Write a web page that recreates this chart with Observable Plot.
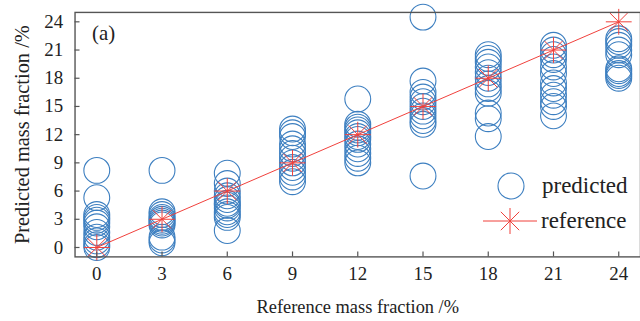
<!DOCTYPE html>
<html>
<head>
<meta charset="utf-8">
<script src="https://cdn.jsdelivr.net/npm/d3@7"></script>
<script src="https://cdn.jsdelivr.net/npm/@observablehq/plot@0.6"></script>
<style>
  html, body { margin: 0; padding: 0; background: #fff; }
  #wrap { position: relative; width: 640px; height: 321px; overflow: hidden; }
  #wrap svg text { font-family: "Liberation Serif", "Times New Roman", Times, "DejaVu Serif", serif !important; }
  #legend { position: absolute; left: 0; top: 0; width: 640px; height: 321px; pointer-events: none; }
</style>
</head>
<body>
<div id="wrap"></div>
<script>
// reference mass fractions (x categories / tick labels)
const refX = [0, 3, 6, 9, 12, 15, 18, 21, 24];
const yTicks = [0, 3, 6, 9, 12, 15, 18, 21, 24];

// predicted values for each reference level
const pred0  = [8.2, 5.3, 3.5, 3.2, 2.9, 2.6, 2.2, 1.6, 1.1, 0.7, 0.3, 0.0];
const pred3  = [8.2, 3.8, 3.5, 3.2, 3.0, 2.8, 2.6, 2.4, 1.1, 0.8, 0.5];
const pred6  = [7.9, 6.8, 6.0, 5.5, 5.1, 4.7, 4.5, 4.2, 3.8, 3.5, 3.2, 1.8];
const pred9  = [12.6, 12.2, 11.8, 11.0, 10.5, 10.0, 9.5, 9.0, 8.5, 8.0, 7.5, 7.0];
const pred12 = [15.8, 13.1, 12.8, 12.5, 12.2, 11.8, 11.5, 11.0, 10.5, 10.0, 9.5, 9.0];
const pred15 = [24.5, 17.7, 16.5, 16.0, 15.5, 15.0, 14.5, 14.0, 13.5, 13.1, 7.6];
const pred18 = [20.5, 20.1, 19.7, 19.2, 18.6, 18.0, 17.4, 16.9, 16.4, 14.3, 13.7, 11.8];
const pred21 = [21.5, 21.0, 20.5, 20.0, 19.2, 18.5, 17.5, 16.9, 16.2, 15.5, 15.0, 14.0];
const pred24 = [22.2, 21.9, 21.5, 21.0, 20.5, 19.0, 18.8, 18.5, 18.3, 18.0];
const predicted = [pred0, pred3, pred6, pred9, pred12, pred15, pred18, pred21, pred24];

// reference line values
const refY = [0, 3, 6, 9, 12, 15, 18, 21, 24];

const predData = predicted.flatMap((arr, i) => arr.map(v => ({x: refX[i], y: v})));
const refData = refX.map((x, i) => ({x, y: refY[i]}));

const blue = "#3d7fc0";
const red = "#f0403a";
const serif = "'Liberation Serif', 'Times New Roman', Times, 'DejaVu Serif', serif";

const star8 = {
  draw(ctx, size) {
    const r = Math.sqrt(size / Math.PI);
    const d = r * Math.SQRT1_2;
    ctx.moveTo(-r, 0); ctx.lineTo(r, 0);
    ctx.moveTo(0, -r); ctx.lineTo(0, r);
    ctx.moveTo(-d, -d); ctx.lineTo(d, d);
    ctx.moveTo(-d, d); ctx.lineTo(d, -d);
  }
};

const W = 644, H = 321, mL = 75, mR = 0, mT = 12, mB = 63;
const frameW = W - mL - mR, frameH = H - mT - mB;

const chart = Plot.plot({
  width: W,
  height: H,
  marginLeft: mL,
  marginRight: mR,
  marginTop: mT,
  marginBottom: mB,
  style: {fontFamily: serif, fontSize: "19px", color: "#222", background: "#fff"},
  x: {domain: [-1, 25]},
  y: {domain: [-1, 25]},
  marks: [
    Plot.dot(predData, {x: "x", y: "y", r: 13, stroke: blue, strokeWidth: 1.1, fill: "none"}),
    Plot.line(refData, {x: "x", y: "y", stroke: red, strokeWidth: 1}),
    Plot.dot(refData, {x: "x", y: "y", r: 13, symbol: star8, stroke: red, strokeWidth: 1, fill: "none"}),
    Plot.tickX(refX, {x: d => d, stroke: "#555", strokeWidth: 1.2, insetTop: frameH - 5}),
    Plot.tickY(yTicks, {y: d => d, stroke: "#555", strokeWidth: 1.2, insetRight: frameW - 5}),
    Plot.axisX({ticks: refX, tickSize: 0, tickPadding: 10, tickFormat: d => String(d), fontSize: 19, label: null}),
    Plot.axisX({ticks: [], tickSize: 0, label: "Reference mass fraction /%", labelAnchor: "center", labelArrow: "none", labelOffset: 56, fontSize: 18.5}),
    Plot.axisY({ticks: yTicks, tickSize: 0, tickPadding: 12, tickFormat: d => String(d), fontSize: 19, label: null}),
    Plot.axisY({ticks: [], tickSize: 0, label: "Predicted mass fraction /%", labelAnchor: "center", labelArrow: "none", labelOffset: 61, fontSize: 20.5}),
    Plot.text(["(a)"], {frameAnchor: "top-left", dx: 17, dy: 13, fontSize: 21, textAnchor: "start", fill: "#222"}),
    Plot.frame({stroke: "#555", strokeWidth: 1.4})
  ]
});

const wrap = document.getElementById("wrap");
wrap.appendChild(chart);

// legend overlay
const ns = "http://www.w3.org/2000/svg";
const lg = document.createElementNS(ns, "svg");
lg.setAttribute("id", "legend");
lg.setAttribute("width", 640);
lg.setAttribute("height", 321);
const items = [
  {label: "predicted", kind: "circle", cx: 511, cy: 186},
  {label: "reference", kind: "star", cx: 510, cy: 221}
];
for (const it of items) {
  if (it.kind === "circle") {
    const c = document.createElementNS(ns, "circle");
    c.setAttribute("cx", it.cx); c.setAttribute("cy", it.cy); c.setAttribute("r", 13);
    c.setAttribute("fill", "none"); c.setAttribute("stroke", blue); c.setAttribute("stroke-width", 1.1);
    lg.appendChild(c);
  } else {
    const p = document.createElementNS(ns, "path");
    const r = 13, d = r * Math.SQRT1_2, x = it.cx, y = it.cy;
    p.setAttribute("d", `M${x-27},${y}L${x+27},${y}M${x},${y-r}L${x},${y+r}M${x-d},${y-d}L${x+d},${y+d}M${x-d},${y+d}L${x+d},${y-d}`);
    p.setAttribute("stroke", red); p.setAttribute("fill", "none"); p.setAttribute("stroke-width", 1);
    lg.appendChild(p);
  }
  const t = document.createElementNS(ns, "text");
  t.setAttribute("x", it.cx + 31); t.setAttribute("y", it.cy + 7);
  t.setAttribute("font-size", 23);
  t.setAttribute("fill", "#222");
  t.textContent = it.label;
  lg.appendChild(t);
}
wrap.appendChild(lg);
</script>
</body>
</html>
